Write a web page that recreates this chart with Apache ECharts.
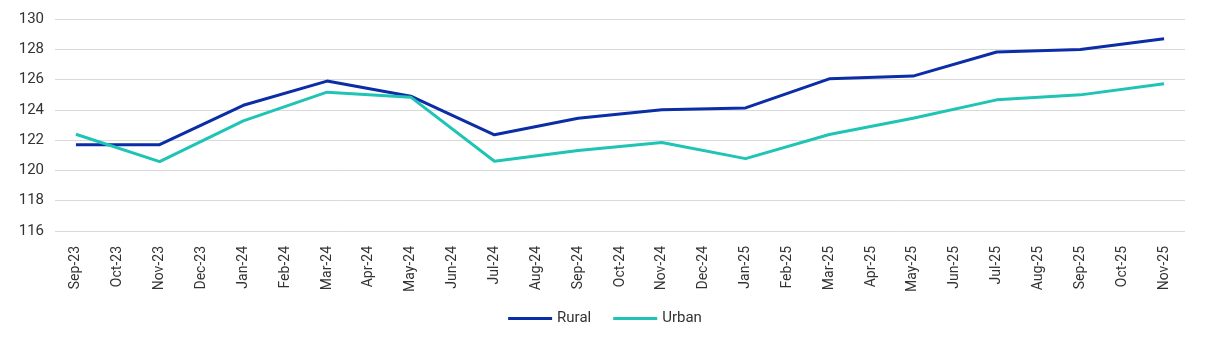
<!DOCTYPE html>
<html><head><meta charset="utf-8">
<script src="https://cdn.jsdelivr.net/npm/echarts@6/dist/echarts.min.js"></script>
<style>html,body{margin:0;padding:0;background:#fff}#c{width:1210px;height:349px}</style>
</head><body><div id="c"></div>
<script>
const categories = ['Sep-23','Oct-23','Nov-23','Dec-23','Jan-24','Feb-24','Mar-24','Apr-24','May-24','Jun-24','Jul-24','Aug-24','Sep-24','Oct-24','Nov-24','Dec-24','Jan-25','Feb-25','Mar-25','Apr-25','May-25','Jun-25','Jul-25','Aug-25','Sep-25','Oct-25','Nov-25'];
const rural = [121.7,null,121.7,null,124.3,null,125.9,null,124.9,null,122.35,null,123.45,null,124.0,null,124.13,null,126.05,null,126.23,null,127.82,null,127.99,null,128.7];
const urban = [122.39,null,120.58,null,123.27,null,125.17,null,124.84,null,120.61,null,121.31,null,121.84,null,120.78,null,122.37,null,123.45,null,124.66,null,124.99,null,125.72];
const font = '"Roboto", sans-serif';
const chart = echarts.init(document.getElementById('c'));
chart.setOption({
  animation:false,
  grid:{left:55,right:25,top:19,bottom:118},
  legend:{bottom:18,left:'center',itemWidth:44,itemHeight:3,itemGap:22,icon:'rect',
    textStyle:{fontFamily:font,fontSize:15,color:'#333'},data:['Rural','Urban']},
  xAxis:{type:'category',data:categories,boundaryGap:true,
    axisLine:{show:false},axisTick:{show:false},
    axisLabel:{rotate:90,interval:0,fontFamily:font,fontSize:14,color:'#333',margin:15}},
  yAxis:{type:'value',min:116,max:130,interval:2,
    axisLine:{show:false},axisTick:{show:false},
    splitLine:{lineStyle:{color:'#d9d9d9',width:1}},
    axisLabel:{fontFamily:font,fontSize:15,color:'#333',margin:11}},
  series:[
    {name:'Rural',type:'line',data:rural,connectNulls:true,symbol:'none',lineStyle:{color:'#0B2DA6',width:3},itemStyle:{color:'#0B2DA6'}},
    {name:'Urban',type:'line',data:urban,connectNulls:true,symbol:'none',lineStyle:{color:'#1FC4B5',width:3},itemStyle:{color:'#1FC4B5'}}
  ]
});
</script></body></html>
